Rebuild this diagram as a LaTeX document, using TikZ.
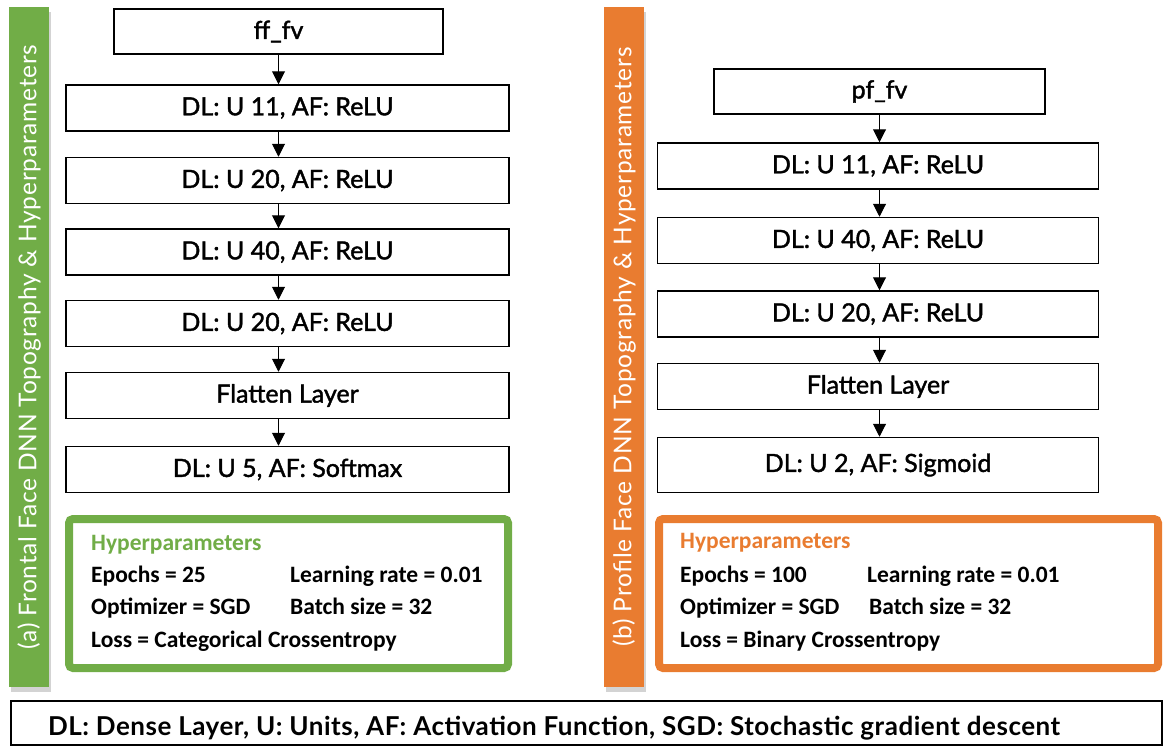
\documentclass[tikz,border=0pt]{standalone}
\usepackage{fontspec}
\setmainfont{Lato}
\newfontfamily\hpfont{Carlito}
\newfontfamily\boxfont[FakeBold=1.6]{Lato}
\newfontfamily\barfont[LetterSpace=3]{Lato}
\newfontfamily\legendfont[LetterSpace=2]{Lato}
\usepackage{xcolor}
\usepackage{tikz}
\usetikzlibrary{arrows.meta, positioning, calc, shadows}

\definecolor{ffgreen}{HTML}{71AD47}
\definecolor{pforange}{HTML}{E97C30}

\tikzset{
    layer/.style={draw, line width=1.5pt, fill=white, minimum height=46pt,
                  font=\boxfont\fontsize{25}{30}\selectfont},
    arr/.style={-{Triangle[length=13pt, width=13pt]}, line width=1pt},
    sidebar/.style={minimum width=40pt, minimum height=680pt,
                    drop shadow={opacity=0.35, shadow xshift=2pt, shadow yshift=-5pt}},
    sidetext/.style={rotate=90, text=white, font=\barfont\fontsize{24.5}{28}\selectfont},
    hpframe/.style={line width=8pt, rounded corners=4pt, fill=white,
                    minimum width=439pt, minimum height=149pt},
    hptext/.style={anchor=base west, inner sep=0pt,
                   font=\hpfont\bfseries\fontsize{23.5}{26}\selectfont}
}

\begin{document}
\begin{tikzpicture}[x=1pt, y=-1pt]
    \useasboundingbox (0,0) rectangle (1166,748);

    % Side bars
    \node[sidebar, fill=ffgreen] (ffbar) at (29,347) {};
    \node[sidetext] (fflabel) at (ffbar) {(a) Frontal Face DNN Topography \& Hyperparameters};
    \node[sidebar, fill=pforange] (pfbar) at (624,347) {};
    \node[sidetext] (pflabel) at (pfbar) {(b) Profile Face DNN Topography \& Hyperparameters};

    % Frontal face network
    \node[layer, minimum width=329pt, minimum height=45pt] (ff) at (278.5,31.5) {ff\_fv};
    \foreach \n/\y/\t in {l1/108/{DL: U 11, AF: ReLU}, l2/180.5/{DL: U 20, AF: ReLU},
                          l3/252/{DL: U 40, AF: ReLU}, l4/323.5/{DL: U 20, AF: ReLU},
                          lflat/395.5/{Flatten Layer}, lout/469.5/{DL: U 5, AF: Softmax}} {
        \node[layer, minimum width=443pt] (\n) at (287.5,\y) {\t};
    }
    \foreach \a/\b in {ff/l1, l1/l2, l2/l3, l3/l4, l4/lflat, lflat/lout} {
        \draw[arr] (ff.south |- \a.south) -- (ff.south |- \b.north);
    }

    % Profile face network
    \node[layer, minimum width=331pt, minimum height=45pt] (pf) at (879.5,91.5) {pf\_fv};
    \foreach \n/\y/\t in {r1/166/{DL: U 11, AF: ReLU}, r2/240.5/{DL: U 40, AF: ReLU},
                          r3/314/{DL: U 20, AF: ReLU}, rflat/386.5/{Flatten Layer}} {
        \node[layer, minimum width=441pt] (\n) at (878,\y) {\t};
    }
    \node[layer, minimum width=441pt, minimum height=55pt] (rout) at (878,465) {DL: U 2, AF: Sigmoid};
    \foreach \a/\b in {pf/r1, r1/r2, r2/r3, r3/rflat, rflat/rout} {
        \draw[arr] (pf.south |- \a.south) -- (pf.south |- \b.north);
    }

    % Hyperparameter boxes
    \node[hpframe, draw=ffgreen] (ffhyper) at (288.5,593.5) {};
    \node[hptext, text=ffgreen] (ffhead) at (91,550) {Hyperparameters};
    \node[hptext] (ffep) at (91,582) {Epochs = 25};
    \node[hptext] (fflr) at (290,582) {Learning rate = 0.01};
    \node[hptext] (ffopt) at (91,614) {Optimizer = SGD};
    \node[hptext] (ffbs) at (290,614) {Batch size = 32};
    \node[hptext] (ffloss) at (91,647) {Loss = Categorical Crossentropy};

    \node[hpframe, draw=pforange, minimum width=499pt] (pfhyper) at (908.5,593.5) {};
    \node[hptext, text=pforange] (pfhead) at (680,548) {Hyperparameters};
    \node[hptext] (pfep) at (680,582) {Epochs = 100};
    \node[hptext] (pflr) at (867,582) {Learning rate = 0.01};
    \node[hptext] (pfopt) at (680,614) {Optimizer = SGD};
    \node[hptext] (pfbs) at (869,614) {Batch size = 32};
    \node[hptext] (pfloss) at (680,647) {Loss = Binary Crossentropy};

    % Legend
    \node[draw, line width=2pt, minimum width=1151pt, minimum height=44pt] (legend) at (586.5,723) {};
    \node[anchor=base, font=\legendfont\bfseries\fontsize{26}{28}\selectfont] (legendtxt) at (554,735)
        {DL: Dense Layer, U: Units, AF: Activation Function, SGD: Stochastic gradient descent};
\end{tikzpicture}
\end{document}
